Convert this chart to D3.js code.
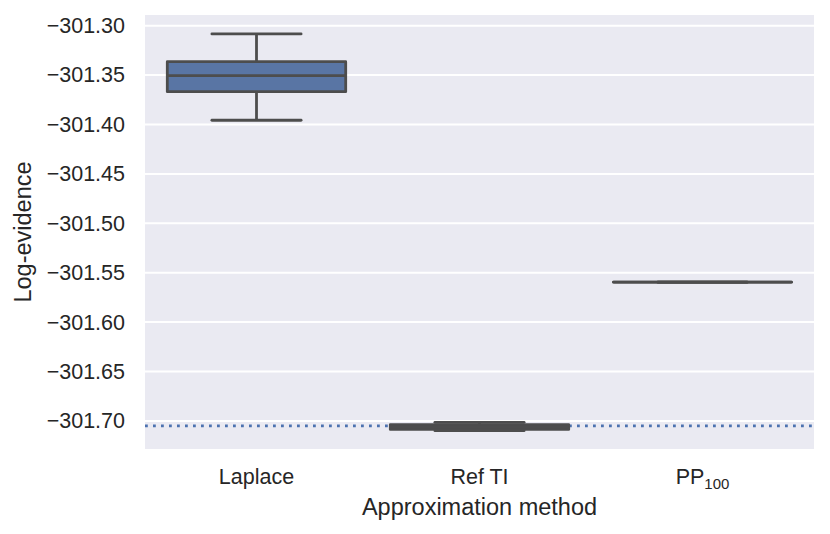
<!DOCTYPE html>
<html>
<head>
<meta charset="utf-8">
<script src="https://cdn.jsdelivr.net/npm/d3@7"></script>
<style>
  html, body { margin: 0; padding: 0; background: #fff; }
  svg text { font-family: "Liberation Sans", Arial, sans-serif; fill: #262626; }
</style>
</head>
<body>
<svg id="chart" width="830" height="534"></svg>
<script>
// ---- data ----
const categories = ["Laplace", "Ref TI", "PP100"];
const whiskerLow  = [-301.3957, -301.7099, -301.5596];
const q1          = [-301.3668, -301.7086, -301.5596];
const median      = [-301.3506, -301.7062, -301.5596];
const q3          = [-301.3364, -301.7037, -301.5596];
const whiskerHigh = [-301.3084, -301.7014, -301.5596];
const referenceValue = -301.7049;
const yTicks = [-301.30, -301.35, -301.40, -301.45, -301.50, -301.55, -301.60, -301.65, -301.70];
const yDomain = [-301.7284, -301.2892];

// ---- layout ----
const svg = d3.select("#chart");
const margin = { left: 145, right: 16, top: 15, bottom: 85 };
const W = 830, H = 534;
const x0 = margin.left, x1 = W - margin.right;
const y0 = margin.top, y1 = H - margin.bottom;

const x = d3.scaleBand().domain(categories).range([x0, x1]).padding(0);
const y = d3.scaleLinear().domain(yDomain).range([y1, y0]);

const boxColor = "#5975a4";
const lineColor = "#4d4d4d";
const lw = 2.8;

// background
svg.append("rect").attr("x", x0).attr("y", y0).attr("width", x1 - x0).attr("height", y1 - y0)
  .attr("fill", "#eaeaf2");

// grid
svg.append("g").selectAll("line").data(yTicks).join("line")
  .attr("x1", x0).attr("x2", x1)
  .attr("y1", d => y(d)).attr("y2", d => y(d))
  .attr("stroke", "#fff").attr("stroke-width", 2);

// y axis (no line, no ticks)
const fmt = d => "\u2212" + Math.abs(d).toFixed(2);
const yAxis = d3.axisLeft(y).tickValues(yTicks).tickFormat(fmt).tickSize(0).tickPadding(20);
const ya = svg.append("g").attr("transform", `translate(${x0},0)`).call(yAxis);
ya.select(".domain").remove();
ya.selectAll("text").attr("font-size", 21.5).attr("fill", "#262626")
  .style("font-family", "'Liberation Sans', Arial, sans-serif");

// x axis
const xAxis = d3.axisBottom(x).tickSize(0).tickPadding(20);
const xa = svg.append("g").attr("transform", `translate(0,${y1})`).call(xAxis);
xa.select(".domain").remove();
xa.selectAll("text").attr("font-size", 21.5).attr("fill", "#262626")
  .style("font-family", "'Liberation Sans', Arial, sans-serif")
  .each(function(d) {
    if (d === "PP100") {
      const t = d3.select(this);
      t.text(null);
      t.append("tspan").text("PP");
      t.append("tspan").text("100").attr("font-size", 15).attr("dy", 5);
    }
  });

// axis labels
svg.append("text").attr("x", (x0 + x1) / 2).attr("y", 515)
  .attr("text-anchor", "middle").attr("font-size", 23.5).text("Approximation method");
svg.append("text").attr("transform", `translate(31,${(y0 + y1) / 2}) rotate(-90)`)
  .attr("text-anchor", "middle").attr("font-size", 23.5).text("Log-evidence");

// reference line
svg.append("line").attr("x1", x0).attr("x2", x1)
  .attr("y1", y(referenceValue)).attr("y2", y(referenceValue))
  .attr("stroke", "#4c72b0").attr("stroke-width", 2.7)
  .attr("stroke-dasharray", "2.8,5.2");

// boxes
const bw = x.bandwidth() * 0.8;
const boxes = svg.append("g").selectAll("g").data(categories).join("g");
boxes.each(function(c, i) {
  const gg = d3.select(this);
  const cx = x(c) + x.bandwidth() / 2;
  // whiskers
  gg.append("line").attr("x1", cx).attr("x2", cx).attr("y1", y(q3[i])).attr("y2", y(whiskerHigh[i]))
    .attr("stroke", lineColor).attr("stroke-width", lw);
  gg.append("line").attr("x1", cx).attr("x2", cx).attr("y1", y(q1[i])).attr("y2", y(whiskerLow[i]))
    .attr("stroke", lineColor).attr("stroke-width", lw);
  // caps
  [whiskerHigh[i], whiskerLow[i]].forEach(v => {
    gg.append("line").attr("x1", cx - bw / 4).attr("x2", cx + bw / 4).attr("y1", y(v)).attr("y2", y(v))
      .attr("stroke", lineColor).attr("stroke-width", lw).attr("stroke-linecap", "round");
  });
  // box as path so zero-height boxes still draw their outline
  const bl = cx - bw / 2, br = cx + bw / 2, bt = y(q3[i]), bb = y(q1[i]);
  gg.append("path").attr("d", `M${bl},${bt}L${br},${bt}L${br},${bb}L${bl},${bb}Z`)
    .attr("fill", boxColor).attr("stroke", lineColor).attr("stroke-width", lw)
    .attr("stroke-linejoin", "round");
  // median
  gg.append("line").attr("x1", bl).attr("x2", br).attr("y1", y(median[i])).attr("y2", y(median[i]))
    .attr("stroke", lineColor).attr("stroke-width", lw);
});
</script>
</body>
</html>
